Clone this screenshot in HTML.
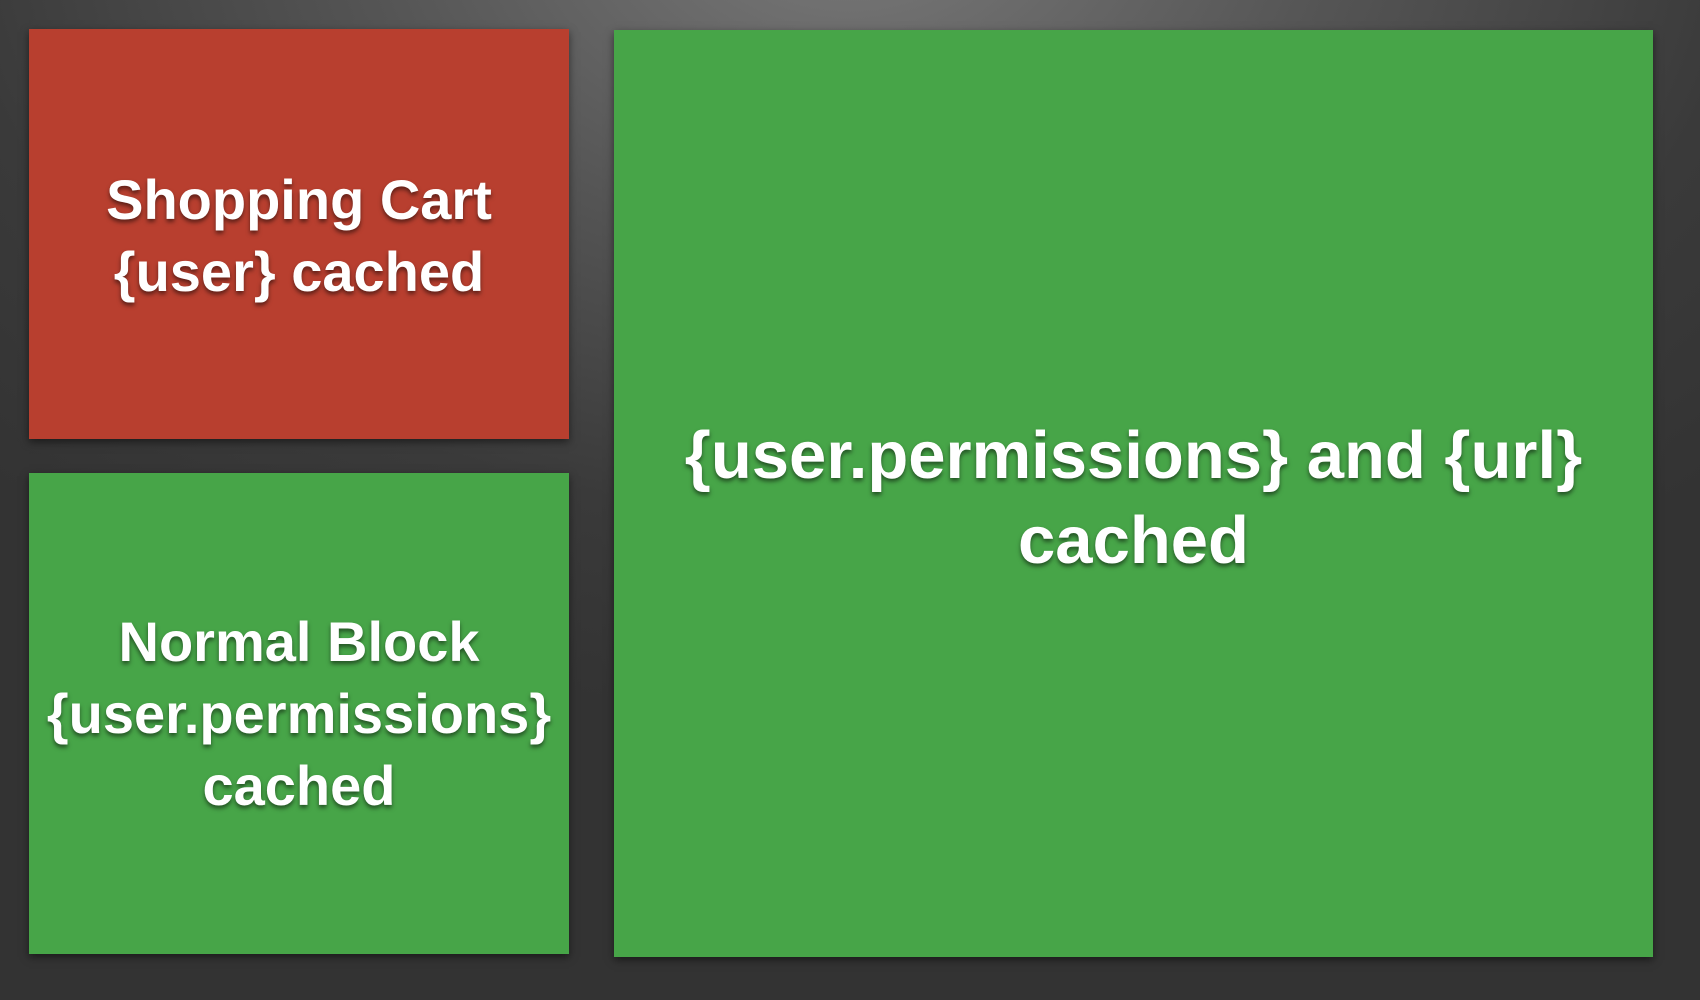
<!DOCTYPE html>
<html><head><meta charset="utf-8"><style>
html,body{margin:0;padding:0;}
body{width:1700px;height:1000px;overflow:hidden;position:relative;
background:radial-gradient(ellipse 1200px 800px at 850px -80px,#7a7a7a 0%,#555 40%,#3a3a3a 75%,#333 100%);
font-family:"Liberation Sans",sans-serif;}
.b{position:absolute;display:flex;align-items:center;justify-content:center;text-align:center;color:#fff;font-weight:bold;
text-shadow:0 3px 4px rgba(0,0,0,0.5);box-shadow:0 3px 8px rgba(0,0,0,0.5);box-sizing:border-box;}
.r{background:#b83f2f;}
.g{background:#47a548;}
</style></head><body>
<div class="b r" style="left:29px;top:29px;width:540px;height:410px;font-size:56px;line-height:72px;padding-top:4px;">Shopping Cart<br>{user} cached</div>
<div class="b g" style="left:29px;top:473px;width:540px;height:481px;font-size:56px;line-height:72px;padding-top:0px;">Normal Block<br>{user.permissions}<br>cached</div>
<div class="b g" style="left:614px;top:30px;width:1039px;height:927px;font-size:67px;line-height:85px;padding-top:8px;">{user.permissions} and {url}<br>cached</div>
</body></html>
